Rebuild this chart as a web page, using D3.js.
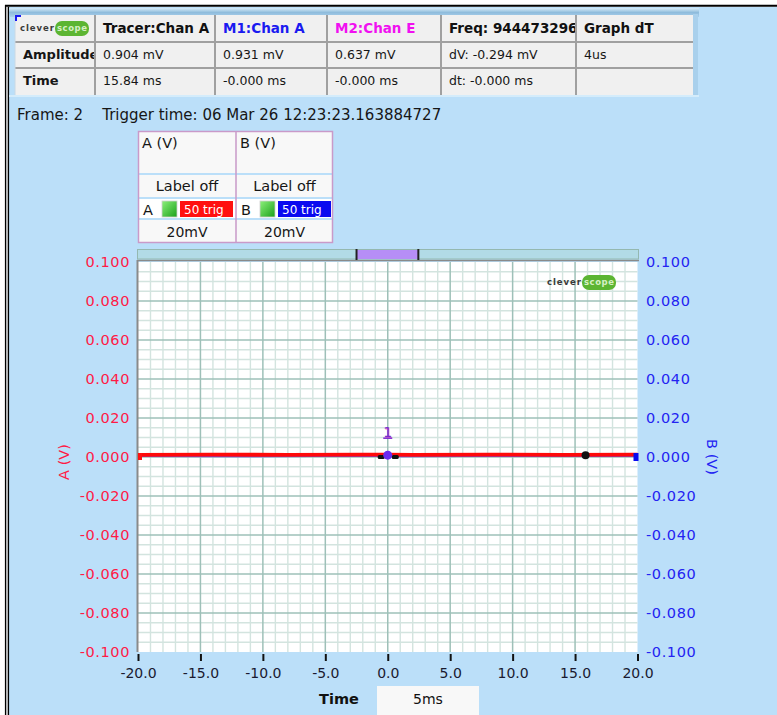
<!DOCTYPE html>
<html>
<head>
<meta charset="utf-8">
<script src="https://cdn.jsdelivr.net/npm/d3@7"></script>
<style>
  html, body { margin: 0; padding: 0; background: #fff; }
  svg { display: block; }
  text { font-family: "DejaVu Sans", "Noto Sans", sans-serif; }
</style>
</head>
<body>
<svg id="chart" width="777" height="715"></svg>
<script>
// ---- readout table ----
const tableHeaders = ["Tracer:Chan A", "M1:Chan A", "M2:Chan E", "Freq: 944473296", "Graph dT"];
const headerColors = ["#111111", "#1a1af0", "#f010f0", "#111111", "#111111"];
const amplitudeRow = ["Amplitude", "0.904 mV", "0.931 mV", "0.637 mV", "dV: -0.294 mV", "4us"];
const timeRow = ["Time", "15.84 ms", "-0.000 ms", "-0.000 ms", "dt:  -0.000 ms", ""];
const frameText = "Frame: 2    Trigger time: 06 Mar 26 12:23:23.163884727";

// ---- channel legend ----
const channels = ["A", "B"];
const channelUnits = ["A (V)", "B (V)"];
const channelColors = ["#ff1010", "#0a0af0"];
const channelTrig = ["50 trig", "50 trig"];
const channelScale = ["20mV", "20mV"];

// ---- axes ----
const timeTicks = [-20, -15, -10, -5, 0, 5, 10, 15, 20];
const voltTicks = [0.1, 0.08, 0.06, 0.04, 0.02, 0, -0.02, -0.04, -0.06, -0.08, -0.1];
const timeDomain = [-20, 20];
const voltDomain = [-0.1, 0.1];
const overviewWindow = [-2.5, 2.45];
const timebase = "5ms";

// ---- traces (ms, V) ----
const traceBTime = [-20, -12, -6, -1, 0, 1, 6, 12, 20];
const traceBVolts = [0.0006, 0.0005, 0.0007, 0.0006, 0.0006, 0.0005, 0.0006, 0.0007, 0.0006];
const traceATime = [-20, -14, -8, -2, 0, 2, 8, 14, 20];
const traceAVolts = [0.0011, 0.0012, 0.0011, 0.0012, 0.0012, 0.0011, 0.0012, 0.0011, 0.0012];
const tracerPoint = { t: 15.84, v: 0.000904 };
const marker1 = { t: 0, v: 0.000931, label: "1" };

const svg = d3.select("#chart");

// page background and window frame
svg.append("rect").attr("x", 0).attr("y", 0).attr("width", 777).attr("height", 715).attr("fill", "#ffffff");
svg.append("rect").attr("x", 9).attr("y", 7).attr("width", 768).attr("height", 708).attr("fill", "#bbdff9");
svg.append("rect").attr("x", 5).attr("y", 5).attr("width", 4).attr("height", 710).attr("fill", "#c8c8c8");
svg.append("line").attr("x1", 5.5).attr("x2", 5.5).attr("y1", 5).attr("y2", 715).attr("stroke", "#000").attr("stroke-width", 1.2);
svg.append("line").attr("x1", 8.5).attr("x2", 8.5).attr("y1", 7).attr("y2", 715).attr("stroke", "#000").attr("stroke-width", 1.2);
svg.append("line").attr("x1", 5).attr("x2", 777).attr("y1", 5.8).attr("y2", 5.8).attr("stroke", "#000").attr("stroke-width", 2);

// header panel with gradient strip
const defs = svg.append("defs");
const grad = defs.append("linearGradient").attr("id", "hdr").attr("x1", 0).attr("y1", 0).attr("x2", 0).attr("y2", 1);
grad.append("stop").attr("offset", 0).attr("stop-color", "#d8ecf8");
grad.append("stop").attr("offset", 0.5).attr("stop-color", "#8fbcdc");
grad.append("stop").attr("offset", 1).attr("stop-color", "#a9d0ec");
svg.append("rect").attr("x", 9).attr("y", 8).attr("width", 690).attr("height", 9).attr("fill", "url(#hdr)");
svg.append("rect").attr("x", 693).attr("y", 14).attr("width", 5).attr("height", 82).attr("fill", "#a9d0ec");
svg.append("rect").attr("x", 9).attr("y", 95).attr("width", 690).attr("height", 2).attr("fill", "#d4ecfb");

// readout table
const colEdges = [15, 95, 215, 327, 441, 576, 693];
const rowEdges = [15, 42, 68, 95];
const table = svg.append("g");
table.append("rect").attr("x", colEdges[0]).attr("y", rowEdges[0])
  .attr("width", colEdges[6] - colEdges[0]).attr("height", rowEdges[3] - rowEdges[0]).attr("fill", "#f0f0f0");
colEdges.slice(1, -1).forEach(x => table.append("line").attr("x1", x).attr("x2", x)
  .attr("y1", rowEdges[0]).attr("y2", rowEdges[3]).attr("stroke", "#a0a0a0").attr("stroke-width", 2));
rowEdges.slice(1, -1).forEach(y => table.append("line").attr("x1", colEdges[0]).attr("x2", colEdges[6])
  .attr("y1", y).attr("y2", y).attr("stroke", "#a0a0a0").attr("stroke-width", 2));
table.append("line").attr("x1", colEdges[0]).attr("x2", colEdges[0]).attr("y1", rowEdges[0]).attr("y2", rowEdges[3]).attr("stroke", "#c8d8e4").attr("stroke-width", 1);

// clip each cell so overflowing text is cut at the column edge
colEdges.slice(0, -1).forEach((x, i) => {
  defs.append("clipPath").attr("id", "col" + i).append("rect")
    .attr("x", x).attr("y", rowEdges[0]).attr("width", colEdges[i + 1] - x - 1).attr("height", rowEdges[3] - rowEdges[0]);
});
tableHeaders.forEach((h, i) => {
  table.append("text").attr("x", colEdges[i + 1] + 8).attr("y", 33).attr("clip-path", `url(#col${i + 1})`)
    .attr("font-size", 13.5).attr("font-weight", "bold").attr("fill", headerColors[i]).text(h);
});
[amplitudeRow, timeRow].forEach((row, r) => {
  row.forEach((v, i) => {
    table.append("text").attr("x", colEdges[i] + (i === 0 ? 8 : 8)).attr("y", 59 + r * 26)
      .attr("clip-path", `url(#col${i})`)
      .attr("font-size", i === 0 ? 13 : 12.5).attr("font-weight", i === 0 ? "bold" : "normal")
      .attr("fill", "#161616").text(v);
  });
});
// corner marker
table.append("path").attr("d", "M16,21 L16,16 L21,16").attr("fill", "none").attr("stroke", "#1a1af0").attr("stroke-width", 2);

// brand logo
function logo(g, x, y, s) {
  g.append("text").attr("x", x).attr("y", y + 3 * s).attr("font-size", 8.5 * s).attr("font-weight", "bold")
    .attr("textLength", 34 * s).attr("fill", "#3a3a3a").text("clever");
  g.append("rect").attr("x", x + 35 * s).attr("y", y - 7 * s).attr("width", 34 * s).attr("height", 15 * s)
    .attr("rx", 7 * s).attr("fill", "#5cb532");
  g.append("text").attr("x", x + 37 * s).attr("y", y + 3 * s).attr("font-size", 8.5 * s).attr("font-weight", "bold")
    .attr("textLength", 30 * s).attr("fill", "#d6efc4").text("scope");
}
logo(table, 20, 28, 1);

// frame / trigger line
svg.append("text").attr("x", 17).attr("y", 120).attr("font-size", 15).attr("fill", "#161616")
  .attr("xml:space", "preserve").style("white-space", "pre").text(frameText);

// channel legend
const legX = [138, 236, 333];
const legY = [131, 174, 198, 219, 243];
const leg = svg.append("g");
leg.append("rect").attr("x", legX[0]).attr("y", legY[0]).attr("width", legX[2] - legX[0]).attr("height", legY[4] - legY[0])
  .attr("fill", "#f8f8f8");
leg.append("rect").attr("x", legX[0]).attr("y", legY[2]).attr("width", legX[2] - legX[0]).attr("height", legY[3] - legY[2])
  .attr("fill", "#ffffff");
legY.slice(1, -1).forEach(y => leg.append("line").attr("x1", legX[0]).attr("x2", legX[2]).attr("y1", y).attr("y2", y)
  .attr("stroke", "#bbdff9").attr("stroke-width", 2));
leg.append("rect").attr("x", legX[0] + 0.5).attr("y", legY[0] + 0.5).attr("width", legX[2] - legX[0] - 1).attr("height", legY[4] - legY[0] - 1)
  .attr("fill", "none").attr("stroke", "#c99ac9").attr("stroke-width", 1.5);
leg.append("line").attr("x1", legX[1]).attr("x2", legX[1]).attr("y1", legY[0]).attr("y2", legY[4])
  .attr("stroke", "#c99ac9").attr("stroke-width", 1.5);
const greenGrad = defs.append("linearGradient").attr("id", "led").attr("x1", 0).attr("y1", 0).attr("x2", 1).attr("y2", 1);
greenGrad.append("stop").attr("offset", 0).attr("stop-color", "#8cf07a");
greenGrad.append("stop").attr("offset", 1).attr("stop-color", "#1aa01a");
channels.forEach((c, i) => {
  const x0 = legX[i], cx = (legX[i] + legX[i + 1]) / 2;
  leg.append("text").attr("x", x0 + 4).attr("y", 148).attr("font-size", 14.5).attr("fill", "#161616").text(channelUnits[i]);
  leg.append("text").attr("x", cx).attr("y", 191).attr("text-anchor", "middle").attr("font-size", 14.5).attr("fill", "#161616").text("Label off");
  leg.append("text").attr("x", x0 + 5).attr("y", 214.5).attr("font-size", 14.5).attr("fill", "#161616").text(c);
  leg.append("rect").attr("x", x0 + 24).attr("y", 201).attr("width", 15).attr("height", 16).attr("fill", "url(#led)")
    .attr("stroke", "#d0d0d0").attr("stroke-width", 0.8);
  leg.append("rect").attr("x", x0 + 42).attr("y", 201).attr("width", 53).attr("height", 16).attr("fill", channelColors[i]);
  leg.append("text").attr("x", x0 + 46).attr("y", 213.5).attr("font-size", 12).attr("fill", "#ffffff").text(channelTrig[i]);
  leg.append("text").attr("x", cx).attr("y", 237).attr("text-anchor", "middle").attr("font-size", 14).attr("fill", "#161616").text(channelScale[i]);
});

// ---- plot ----
const x = d3.scaleLinear().domain(timeDomain).range([138, 637.5]);
const y = d3.scaleLinear().domain(voltDomain).range([652, 262]);
const plot = svg.append("g");
plot.append("rect").attr("x", x(timeDomain[0])).attr("y", y(voltDomain[1])).attr("width", x(timeDomain[1]) - x(timeDomain[0]))
  .attr("height", y(voltDomain[0]) - y(voltDomain[1])).attr("fill", "#ffffff");

const minorX = d3.range(timeDomain[0], timeDomain[1] + 0.5, 1).filter(t => t % 5 !== 0);
const minorY = d3.range(-20, 21).map(k => k * 0.005).filter((v, k) => (k % 4) !== 0);
plot.selectAll(".mx").data(minorX).join("line").attr("x1", d => x(d)).attr("x2", d => x(d))
  .attr("y1", y(voltDomain[1])).attr("y2", y(voltDomain[0])).attr("stroke", "#d3e4df").attr("stroke-width", 1.4);
plot.selectAll(".my").data(minorY).join("line").attr("x1", x(timeDomain[0])).attr("x2", x(timeDomain[1]))
  .attr("y1", d => y(d)).attr("y2", d => y(d)).attr("stroke", "#d3e4df").attr("stroke-width", 1.4);
plot.selectAll(".Mx").data(timeTicks.slice(1, -1)).join("line").attr("x1", d => x(d)).attr("x2", d => x(d))
  .attr("y1", y(voltDomain[1])).attr("y2", y(voltDomain[0])).attr("stroke", "#9ec0b8").attr("stroke-width", 1.5);
plot.selectAll(".My").data(voltTicks.slice(1, -1)).join("line").attr("x1", x(timeDomain[0])).attr("x2", x(timeDomain[1]))
  .attr("y1", d => y(d)).attr("y2", d => y(d)).attr("stroke", "#9ec0b8").attr("stroke-width", 1.5);
// plot border (left and top)
plot.append("line").attr("x1", 137.5).attr("x2", 137.5).attr("y1", 260).attr("y2", 652).attr("stroke", "#8a8a8a").attr("stroke-width", 2);
plot.append("line").attr("x1", 137).attr("x2", 639).attr("y1", 260.5).attr("y2", 260.5).attr("stroke", "#8a8a8a").attr("stroke-width", 1.5);

// overview bar
plot.append("rect").attr("x", 137.5).attr("y", 249.5).attr("width", 501).attr("height", 9.5)
  .attr("fill", "#b2dbe6").attr("stroke", "#94b8b0").attr("stroke-width", 1);
plot.append("rect").attr("x", x(overviewWindow[0])).attr("y", 250).attr("width", x(overviewWindow[1]) - x(overviewWindow[0]))
  .attr("height", 9).attr("fill", "#b68ef6");
overviewWindow.forEach(t => plot.append("line").attr("x1", x(t)).attr("x2", x(t)).attr("y1", 249).attr("y2", 260)
  .attr("stroke", "#222").attr("stroke-width", 2));

logo(plot, 547, 282, 1);

// bottom time axis (tick marks and labels)
const xAxis = d3.axisBottom(x).tickValues(timeTicks).tickSize(7).tickPadding(7).tickFormat(d3.format(".1f"));
const gx = svg.append("g").attr("transform", "translate(0,654)").call(xAxis);
gx.select(".domain").remove();
gx.selectAll(".tick line").attr("stroke", "#111").attr("stroke-width", 2);
gx.selectAll(".tick text").attr("font-size", 14).attr("fill", "#1a1a30").attr("font-family", "DejaVu Sans, sans-serif")
  .text(d => d3.format(".1f")(d).replace("−", "-"));

// left (A) and right (B) voltage axes
const fmtV = d => d3.format(".3f")(d).replace("−", "-");
const yl = d3.axisLeft(y).tickValues(voltTicks).tickSize(0).tickPadding(7).tickFormat(fmtV);
const gyl = svg.append("g").attr("transform", "translate(137,0)").call(yl);
gyl.select(".domain").remove();
gyl.selectAll(".tick text").attr("font-size", 14.5).attr("letter-spacing", 0.6).attr("fill", "#ff1a46").attr("font-family", "DejaVu Sans, sans-serif");
const yr = d3.axisRight(y).tickValues(voltTicks).tickSize(0).tickPadding(8).tickFormat(fmtV);
const gyr = svg.append("g").attr("transform", "translate(638,0)").call(yr);
gyr.select(".domain").remove();
gyr.selectAll(".tick text").attr("font-size", 14.5).attr("letter-spacing", 0.6).attr("fill", "#2323f2").attr("font-family", "DejaVu Sans, sans-serif");

svg.append("text").attr("transform", `translate(69,${y(0) + 5}) rotate(-90)`).attr("text-anchor", "middle")
  .attr("font-size", 14.5).attr("fill", "#ff1a46").text(channelUnits[0]);
svg.append("text").attr("transform", `translate(707,${y(0)}) rotate(90)`).attr("text-anchor", "middle")
  .attr("font-size", 14.5).attr("fill", "#2323f2").text(channelUnits[1]);

// timebase readout
svg.append("text").attr("x", 339).attr("y", 704).attr("text-anchor", "middle").attr("font-size", 14.5)
  .attr("font-weight", "bold").attr("fill", "#111").text("Time");
svg.append("rect").attr("x", 377).attr("y", 686).attr("width", 102).attr("height", 29).attr("fill", "#f8f8f8");
svg.append("text").attr("x", 428).attr("y", 704).attr("text-anchor", "middle").attr("font-size", 14).attr("fill", "#111").text(timebase);

// traces
const line = d3.line().x(d => x(d[0])).y(d => y(d[1]));
plot.append("path").datum(d3.zip(traceBTime, traceBVolts)).attr("d", line)
  .attr("fill", "none").attr("stroke", "#6a4af0").attr("stroke-width", 2.5);
plot.append("path").datum(d3.zip(traceATime, traceAVolts)).attr("d", line)
  .attr("fill", "none").attr("stroke", "#ff0a0a").attr("stroke-width", 3.8);

// channel end markers
plot.append("rect").attr("x", x(timeDomain[0])).attr("y", y(0) - 4).attr("width", 4).attr("height", 7).attr("fill", "#ff1010");
plot.append("rect").attr("x", x(timeDomain[1]) - 4).attr("y", y(0) - 4).attr("width", 5).attr("height", 8).attr("fill", "#0a0af0");

// marker 1
plot.append("rect").attr("x", x(marker1.t) - 10).attr("y", y(0) - 2).attr("width", 7).attr("height", 4).attr("rx", 1.5).attr("fill", "#111");
plot.append("rect").attr("x", x(marker1.t) + 4).attr("y", y(0) - 2).attr("width", 7).attr("height", 4).attr("rx", 1.5).attr("fill", "#111");
plot.append("circle").attr("cx", x(marker1.t)).attr("cy", y(marker1.v)).attr("r", 4.5).attr("fill", "#6a2af0");
plot.append("text").attr("x", x(marker1.t) + 0.8).attr("y", y(marker1.v) - 17.5).attr("text-anchor", "middle")
  .attr("font-size", 14).attr("fill", "#ff80c0").text(marker1.label);
plot.append("text").attr("x", x(marker1.t)).attr("y", y(marker1.v) - 18).attr("text-anchor", "middle")
  .attr("font-size", 14).attr("fill", "#7a2ad0").text(marker1.label);
plot.append("line").attr("x1", x(marker1.t) - 4.5).attr("x2", x(marker1.t) + 4.5).attr("y1", y(marker1.v) - 17).attr("y2", y(marker1.v) - 17)
  .attr("stroke", "#7a2ad0").attr("stroke-width", 1.5);

// tracer point
plot.append("circle").attr("cx", x(tracerPoint.t)).attr("cy", y(tracerPoint.v)).attr("r", 4).attr("fill", "#111");
</script>
</body>
</html>
